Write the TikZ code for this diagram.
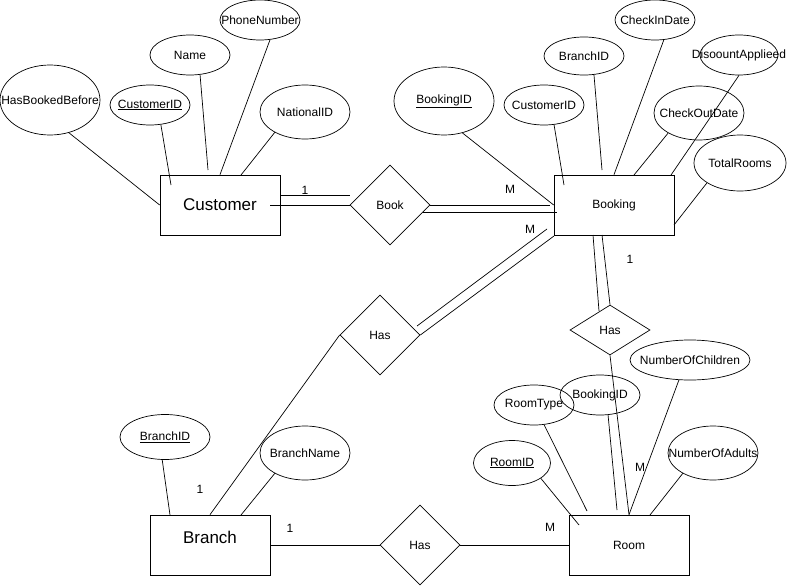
\documentclass[tikz,border=0pt]{standalone}
\usepackage{fontspec}
\setmainfont{Liberation Sans}
\usetikzlibrary{shapes.geometric}
\tikzset{
  entity/.style={draw, rectangle, minimum width=120pt, minimum height=60pt, inner sep=0pt},
  rel/.style={draw, diamond, minimum width=80pt, inner sep=0pt},
  attr/.style={draw, ellipse, inner sep=0pt},
  card/.style={inner sep=0pt}
}
\begin{document}
\begin{tikzpicture}[x=1pt, y=-1pt, line width=0.7pt, font=\fontsize{12}{14}\selectfont]
      \useasboundingbox (0,0) rectangle (787,586);

      % Entities
      \node[entity, font=\fontsize{17}{20}\selectfont] (Customer) at (220,205) {Customer};
      \node[entity] (Booking) at (614,205) {Booking};
      \node[entity, label={[yshift=8pt, font=\fontsize{17}{20}\selectfont]center:Branch}] (Branch) at (210,545) {};
      \node[entity] (Room) at (629,545) {Room};

      % Relationships
      \node[rel, minimum height=80pt] (Book) at (390,205) {Book};
      \node[rel, minimum height=80pt] (HasBB) at (380,335) {Has};
      \node[rel, minimum height=50pt] (HasBR) at (610,330) {Has};
      \node[rel, minimum height=80pt] (HasBrR) at (420,545) {Has};

      % Customer attributes
      \node[attr, minimum width=100pt, minimum height=70pt, label=center:HasBookedBefore] (C-HBB) at (50,100) {};
      \node[attr, minimum width=80pt, minimum height=40pt, label=center:\underline{CustomerID}] (C-ID) at (150,105) {};
      \node[attr, minimum width=80pt, minimum height=40pt, label=center:Name] (C-Name) at (190,55) {};
      \node[attr, minimum width=80pt, minimum height=40pt, label=center:PhoneNumber] (C-Phone) at (260,20) {};
      \node[attr, minimum width=90pt, minimum height=54pt, label=center:NationalID] (C-NID) at (305,112) {};

      % Booking attributes
      \node[attr, minimum width=100pt, minimum height=68pt, label=center:\underline{BookingID}] (B-ID) at (444,101) {};
      \node[attr, minimum width=80pt, minimum height=40pt, label=center:CustomerID] (B-CID) at (544,105) {};
      \node[attr, minimum width=80pt, minimum height=38pt, label=center:BranchID] (B-BrID) at (584,56) {};
      \node[attr, minimum width=80pt, minimum height=40pt, label=center:CheckInDate] (B-In) at (655,20) {};
      \node[attr, minimum width=78pt, minimum height=40pt, label=center:DisoountApplieed] (B-Disc) at (739,55) {};
      \node[attr, minimum width=90pt, minimum height=54pt, label=center:CheckOutDate] (B-Out) at (699,113) {};
      \node[attr, minimum width=92pt, minimum height=56pt, label=center:TotalRooms] (B-Total) at (740,163) {};

      % Branch attributes
      \node[attr, minimum width=90pt, minimum height=45pt, label=center:\underline{BranchID}] (Br-ID) at (165,437) {};
      \node[attr, minimum width=90pt, minimum height=54pt, label=center:BranchName] (Br-Name) at (305,453) {};

      % Room attributes
      \node[attr, minimum width=77pt, minimum height=45pt, label=center:\underline{RoomID}] (R-ID) at (512,463) {};
      \node[attr, minimum width=80pt, minimum height=40pt, label=center:RoomType] (R-Type) at (534,405) {};
      \node[attr, minimum width=80pt, minimum height=40pt, label=center:BookingID] (R-BID) at (600,395) {};
      \node[attr, minimum width=120pt, minimum height=40pt, label=center:NumberOfChildren] (R-Child) at (690,360) {};
      \node[attr, minimum width=90pt, minimum height=54pt, label=center:NumberOfAdults] (R-Adult) at (713,453) {};

      % Free ends of connectors
      \coordinate (c-id) at (171,185);
      \coordinate (c-name) at (208,170);
      \coordinate (c-nid) at (241,175);
      \coordinate (b-cid) at (564,185);
      \coordinate (b-brid) at (602,170);
      \coordinate (b-out) at (634,175);
      \coordinate (b-disc) at (671,175);
      \coordinate (b-total) at (674,225);
      \coordinate (br-id) at (170,515);
      \coordinate (br-name) at (241,515);
      \coordinate (r-id) at (579,525);
      \coordinate (r-type) at (587,511);
      \coordinate (r-bid) at (617,510);
      \coordinate (r-adult) at (650,515);

      % Attribute lines
      \foreach \a/\b in {C-HBB.-60/Customer.west, C-ID.-61/c-id, C-Name.-63/c-name,
                         C-Phone.-63/Customer.north, C-NID.-146/c-nid,
                         B-ID.-60/Booking.west, B-CID.-63/b-cid, B-BrID.-62/b-brid,
                         B-In.-66/Booking.north, B-Disc.-90/b-disc, B-Out.-147/b-out,
                         B-Total.-149/b-total,
                         Br-ID.-97/br-id, Br-Name.-146/br-name,
                         R-ID.-28/r-id, R-Type.-63/r-type, R-BID.-68/r-bid,
                         R-Child.-119/Room.north, R-Adult.-146/r-adult}
        \draw (\a) -- (\b);

      % Customer -- Book -- Booking
      \coordinate (cb-1) at (280,195);
      \coordinate (cb-2) at (350,195);
      \coordinate (cb-3) at (270,205);
      \draw (cb-1) -- (cb-2);
      \draw (cb-3) -- (Book.west);
      \coordinate (bb-1) at (550,205);
      \coordinate (bb-2) at (423,212);
      \coordinate (bb-3) at (557,212);
      \draw (Book.east) -- (bb-1);
      \draw (bb-2) -- (bb-3);
      \node[card] (card-c) at (305,190) {1};
      \node[card] (card-b) at (510,189) {M};

      % Booking -- Has -- Branch
      \coordinate (hb-1) at (547,229);
      \coordinate (hb-2) at (417,326);
      \coordinate (hb-3) at (554,236);
      \draw (hb-1) -- (hb-2);
      \draw (hb-3) -- (HasBB.east);
      \draw (HasBB.west) -- (Branch.north);
      \node[card] (card-bb) at (530,229) {M};
      \node[card] (card-br) at (200,489) {1};

      % Booking -- Has -- Room
      \coordinate (hr-1) at (593,235);
      \coordinate (hr-2) at (599,311);
      \coordinate (hr-3) at (602,235);
      \draw (hr-1) -- (hr-2);
      \draw (hr-3) -- (HasBR.north);
      \draw (HasBR.south) -- (Room.north);
      \node[card] (card-bk) at (630,259) {1};
      \node[card] (card-rm) at (640,467) {M};

      % Branch -- Has -- Room
      \draw (Branch.east) -- (HasBrR.west);
      \draw (HasBrR.east) -- (Room.west);
      \node[card] (card-brr) at (290,528) {1};
      \node[card] (card-rr) at (550,527) {M};

  \end{tikzpicture}
\end{document}
